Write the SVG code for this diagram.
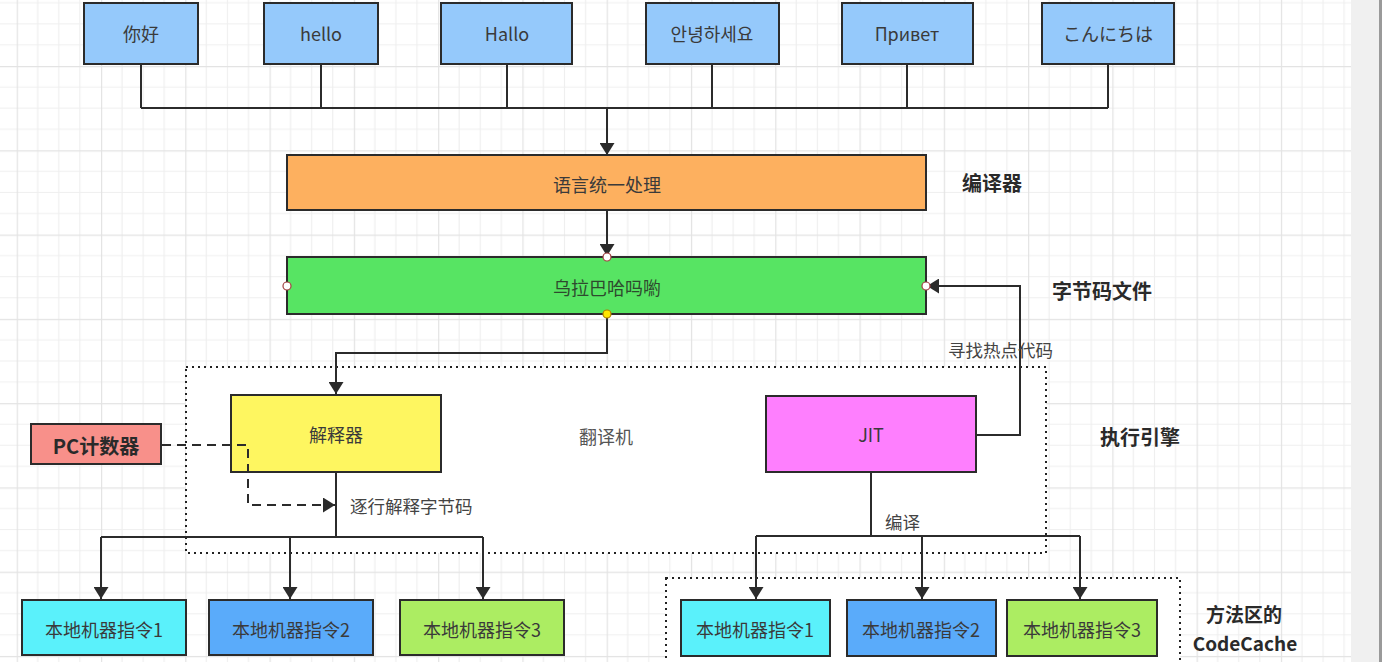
<svg xmlns="http://www.w3.org/2000/svg" width="1382" height="662" viewBox="0 0 1382 662">
<style>
.box{stroke:#2b2b2b;stroke-width:2}
.t{font-family:"Noto Sans CJK SC","Liberation Sans",sans-serif;font-size:18px;fill:#3a3a3a;text-anchor:middle;dominant-baseline:central}
.lb{font-family:"Noto Sans CJK SC","Liberation Sans",sans-serif;font-size:20px;font-weight:bold;fill:#2a2a2a;text-anchor:middle;dominant-baseline:central}
.lb2{font-size:19px}
.sl{font-family:"Noto Sans CJK SC","Liberation Sans",sans-serif;font-size:17.5px;fill:#444;dominant-baseline:central}
.ln{fill:none;stroke:#2b2b2b;stroke-width:2}
.dot{fill:#fff;stroke:#222;stroke-width:2;stroke-dasharray:2 4}
.blue{fill:#95c9fb}
.cyan{fill:#5af1fb}
.mid{fill:#5aabfa}
.lime{fill:#aced62}
</style>
<defs>
<pattern id="grid" x="16.7" y="66" width="84.28" height="84.28" patternUnits="userSpaceOnUse">
<path d="M21.07 0V84.28M42.14 0V84.28M63.21 0V84.28M0 21.07H84.28M0 42.14H84.28M0 63.21H84.28" stroke="#efefef" stroke-width="1.2" fill="none"/>
<path d="M0.5 0V84.28M0 0.5H84.28" stroke="#e3e3e3" stroke-width="1.4" fill="none"/>
</pattern>
<marker id="ar" viewBox="0 0 12 15" refX="12" refY="7.5" markerWidth="12" markerHeight="15" markerUnits="userSpaceOnUse" orient="auto">
<path d="M0 0L12 7.5L0 15Z" fill="#2b2b2b"/>
</marker>
</defs>
<rect width="1382" height="662" fill="#fff"/>
<rect width="1351" height="662" fill="url(#grid)"/>
<rect x="1351" y="0" width="28" height="662" fill="#f0f0f0"/>
<rect x="1379" y="0" width="3" height="662" fill="#9a9a9a"/>

<g id="frame-translator"><rect class="dot" x="186" y="367" width="860" height="186"/><text class="t" x="606" y="436" style="fill:#555">翻译机</text></g>
<g id="frame-codecache"><rect class="dot" x="666" y="578" width="514" height="90"/></g>

<g id="n-nihao"><rect class="box blue" x="84" y="3" width="114" height="61"/><text class="t" x="141" y="33">你好</text></g>
<g id="n-hello"><rect class="box blue" x="264" y="3" width="114" height="61"/><text class="t" x="321" y="33">hello</text></g>
<g id="n-hallo"><rect class="box blue" x="441" y="3" width="131" height="61"/><text class="t" x="507" y="33">Hallo</text></g>
<g id="n-ko"><rect class="box blue" x="646" y="3" width="133" height="61"/><text class="t" x="712" y="33">안녕하세요</text></g>
<g id="n-ru"><rect class="box blue" x="842" y="3" width="131" height="61"/><text class="t" x="907" y="33">Привет</text></g>
<g id="n-ja"><rect class="box blue" x="1042" y="3" width="132" height="61"/><text class="t" x="1108" y="33">こんにちは</text></g>

<g id="n-unify"><rect class="box" x="287" y="155" width="639" height="55" fill="#fdb05f"/><text class="t" x="607" y="184">语言统一处理</text></g>
<g id="n-bytecode"><rect class="box" x="287" y="257" width="639" height="57" fill="#57e463"/><text class="t" x="607" y="287" style="fill:#2e4a2e">乌拉巴哈吗喲</text></g>

<g id="n-interp"><rect class="box" x="231" y="395" width="210" height="77" fill="#fef660"/><text class="t" x="336" y="434">解释器</text></g>
<g id="n-jit"><rect class="box" x="766" y="396" width="210" height="76" fill="#fe7ffe"/><text class="t" x="871" y="434">JIT</text></g>
<g id="n-pc"><rect class="box" x="31" y="424" width="130" height="40" fill="#f8908a"/><text class="lb" x="96" y="445">PC计数器</text></g>

<g id="n-l1"><rect class="box cyan" x="22" y="600" width="164" height="55"/><text class="t" x="104" y="629">本地机器指令1</text></g>
<g id="n-l2"><rect class="box mid" x="209" y="600" width="164" height="55"/><text class="t" x="291" y="629">本地机器指令2</text></g>
<g id="n-l3"><rect class="box lime" x="400" y="600" width="164" height="55"/><text class="t" x="482" y="629">本地机器指令3</text></g>
<g id="n-r1"><rect class="box cyan" x="681" y="600" width="149" height="56"/><text class="t" x="755" y="629">本地机器指令1</text></g>
<g id="n-r2"><rect class="box mid" x="847" y="600" width="149" height="56"/><text class="t" x="921" y="629">本地机器指令2</text></g>
<g id="n-r3"><rect class="box lime" x="1007" y="600" width="150" height="56"/><text class="t" x="1082" y="629">本地机器指令3</text></g>

<g id="connectors">
<path class="ln" d="M141 64V108M321 64V108M507 64V108M712 64V108M907 64V108M1108 64V108M141 108H1108"/>
<path class="ln" d="M607 108V155" marker-end="url(#ar)"/>
<path class="ln" d="M607 210V256" marker-end="url(#ar)"/>
<path class="ln" d="M607 314V353H336V394" marker-end="url(#ar)"/>
<path class="ln" d="M977 435H1020V286H927" marker-end="url(#ar)"/>
<path class="ln" d="M162 445H248V505H335" stroke-dasharray="9 6" marker-end="url(#ar)"/>
<path class="ln" d="M336 473V537M101 537H483"/>
<path class="ln" d="M101 537V599" marker-end="url(#ar)"/>
<path class="ln" d="M290 537V599" marker-end="url(#ar)"/>
<path class="ln" d="M483 537V599" marker-end="url(#ar)"/>
<path class="ln" d="M871 473V536M756 536H1080"/>
<path class="ln" d="M756 536V599" marker-end="url(#ar)"/>
<path class="ln" d="M922 536V599" marker-end="url(#ar)"/>
<path class="ln" d="M1080 536V599" marker-end="url(#ar)"/>
<text class="sl" x="948" y="349">寻找热点代码</text>
<text class="sl" x="350" y="505">逐行解释字节码</text>
<text class="sl" x="885" y="521">编译</text>
</g>

<g id="handles">
<circle cx="607" cy="257" r="4" fill="#fff" stroke="#a04040" stroke-width="1.2"/>
<circle cx="287" cy="286" r="4" fill="#fff" stroke="#a04040" stroke-width="1.2"/>
<circle cx="926" cy="286" r="4" fill="#fff" stroke="#a04040" stroke-width="1.2"/>
<circle cx="607" cy="314" r="4" fill="#ffe600" stroke="#b08000" stroke-width="1.2"/>
</g>

<g id="labels">
<text class="lb" x="992" y="182">编译器</text>
<text class="lb" x="1102" y="290">字节码文件</text>
<text class="lb" x="1140" y="436">执行引擎</text>
<text class="lb lb2" x="1244" y="613">方法区的</text>
<text class="lb lb2" x="1245" y="642">CodeCache</text>
</g>
</svg>
